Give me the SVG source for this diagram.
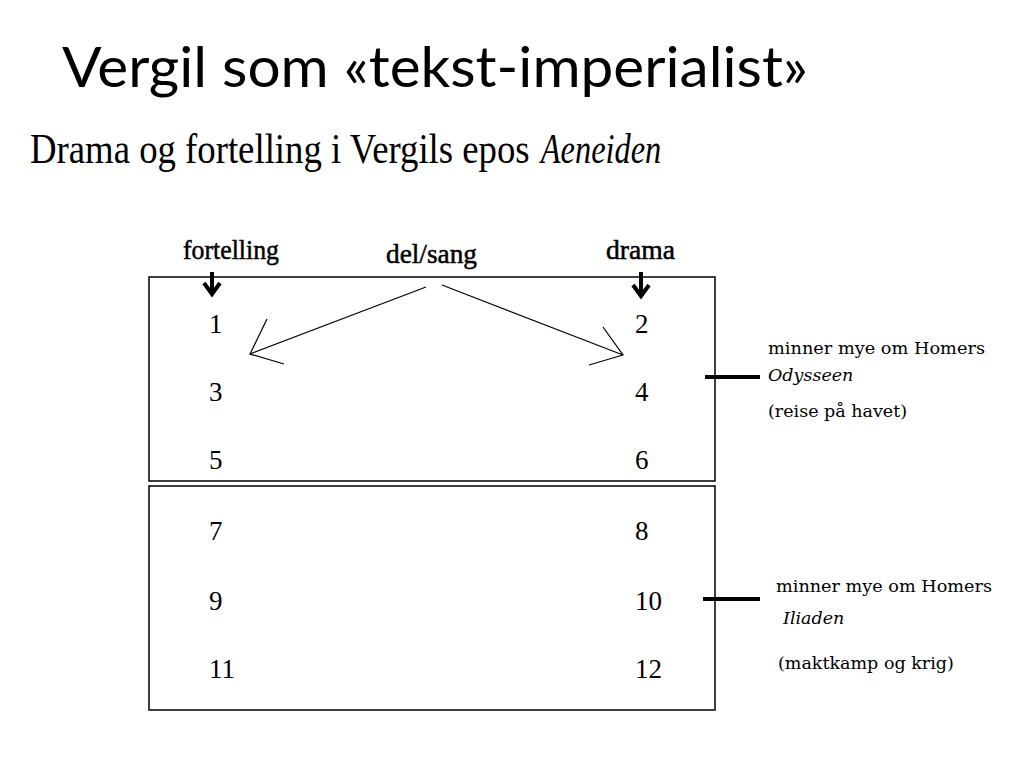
<svg xmlns="http://www.w3.org/2000/svg" width="1024" height="768" viewBox="0 0 1024 768">
<style>
.box{fill:none;stroke:#000;stroke-width:1.5}
.thin{stroke:#000;stroke-width:1.2;fill:none}
.thick{stroke:#000;stroke-width:4;fill:none}
.n{font-family:"Liberation Serif",serif;font-size:27px;fill:#000}
</style>
<rect width="1024" height="768" fill="#fff"/>
<text x="62" y="87" font-family="Lato, 'Open Sans', sans-serif" font-size="56" fill="#000" textLength="746" lengthAdjust="spacingAndGlyphs">Vergil som «tekst-imperialist»</text>
<g id="subtitle" font-family="'Liberation Serif', serif" font-size="42" fill="#000" transform="translate(30,163) scale(0.86,1)">
<text x="0" y="0" textLength="581" lengthAdjust="spacingAndGlyphs">Drama og fortelling i Vergils epos</text>
<text x="594" y="0" font-style="italic" textLength="140" lengthAdjust="spacingAndGlyphs">Aeneiden</text>
</g>
<g id="box-upper"><rect class="box" x="149" y="277" width="566" height="204"/></g>
<g id="box-lower"><rect class="box" x="149" y="486" width="566" height="224"/></g>
<g id="labels" font-family="'Liberation Serif', serif" font-size="28" fill="#000" stroke="#000" stroke-width="0.5">
<text x="183" y="259" textLength="96" lengthAdjust="spacingAndGlyphs">fortelling</text>
<text x="386" y="263" textLength="91" lengthAdjust="spacingAndGlyphs">del/sang</text>
<text x="606" y="259" textLength="69" lengthAdjust="spacingAndGlyphs">drama</text>
</g>
<g id="numbers">
<text class="n" x="209" y="333">1</text><text class="n" x="635" y="333">2</text>
<text class="n" x="209" y="401">3</text><text class="n" x="635" y="401">4</text>
<text class="n" x="209" y="469">5</text><text class="n" x="635" y="469">6</text>
<text class="n" x="209" y="540">7</text><text class="n" x="635" y="540">8</text>
<text class="n" x="209" y="610">9</text><text class="n" x="635" y="610">10</text>
<text class="n" x="209" y="678">11</text><text class="n" x="635" y="678">12</text>
</g>
<g id="note-odysseen" font-family="'DejaVu Serif', 'Liberation Serif', serif" font-size="17.5" fill="#000">
<text x="768" y="354" textLength="217" lengthAdjust="spacingAndGlyphs">minner mye om Homers</text>
<text x="768" y="381" font-style="italic">Odysseen</text>
<text x="768" y="417">(reise på havet)</text>
</g>
<g id="note-iliaden" font-family="'DejaVu Serif', 'Liberation Serif', serif" font-size="17.5" fill="#000">
<text x="776" y="592" textLength="216" lengthAdjust="spacingAndGlyphs">minner mye om Homers</text>
<text x="783" y="624" font-style="italic">Iliaden</text>
<text x="778" y="669">(maktkamp og krig)</text>
</g>
<g id="connectors">
<path class="thick" d="M212 272 V293 M204 283 L212 294 L220 283"/>
<path class="thick" d="M641 272 V295 M633 285 L641 296 L649 285"/>
<path class="thin" d="M426 287 L250 354 M267 319 L250 354 L284 364"/>
<path class="thin" d="M442 285 L623 355 M603 327 L623 355 L589 365"/>
<path class="thick" d="M705 377 H760"/>
<path class="thick" d="M703 599 H760"/>
</g>
</svg>
